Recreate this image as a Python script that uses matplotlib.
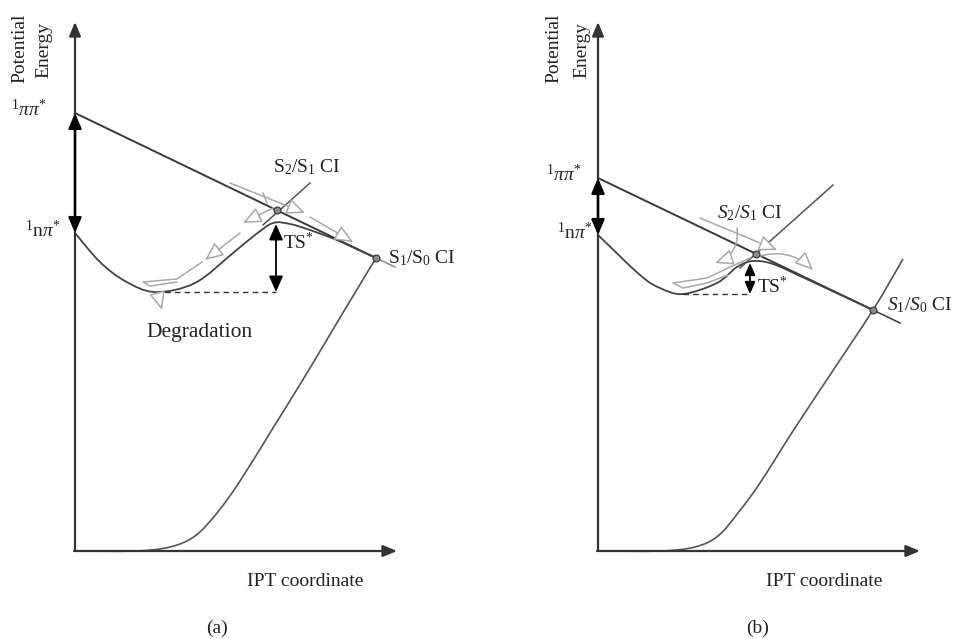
import numpy as np
import matplotlib
matplotlib.use("Agg")
import matplotlib.pyplot as plt
from matplotlib.path import Path
from matplotlib.patches import PathPatch

plt.rcParams['font.family'] = ['Liberation Serif', 'DejaVu Serif']
plt.rcParams['mathtext.fontset'] = 'custom'
plt.rcParams['mathtext.rm'] = 'Liberation Serif'
plt.rcParams['mathtext.it'] = 'Liberation Serif:italic'
plt.rcParams['mathtext.bf'] = 'Liberation Serif:bold'

# ---------------- data (panel coordinates: x = IPT coordinate, y = potential energy)
panel_labels = ['(a)', '(b)']
pipi_E = [438, 373]                       # 1ππ* level at x = 0
npi_E = [318, 316]                        # 1nπ* level at x = 0
s1s0_ci_x = [301, 275]
s1s0_ci_E = [293, 241]
s2s1_ci_x = [202, 158]
s2s1_ci_E = [341, 297]
pipi_ext_x = [320, 302]
pipi_ext_E = [284, 228]

npi_a_x = [0, 25, 50, 80, 120, 158, 180, 198, 215, 235, 262]
npi_a_E = [318, 289, 270, 259, 268, 298, 316, 328, 327, 321, 311]
npi_b_x = [0, 42, 62, 85, 119, 139, 155, 175, 202]
npi_b_E = [316, 276, 263, 257, 268, 284, 290, 287, 275]

ground_a_x = [0, 60, 95, 120, 142, 165, 198, 232, 266, 301]
ground_a_E = [0, 0, 4, 15, 38, 70, 123, 178, 235, 293]
ground_b_x = [0, 62, 97, 120, 140, 162, 195, 232, 275, 305]
ground_b_E = [0, 0, 4, 15, 38, 68, 120, 176, 241, 292]

cross_x = [[188, 235], [142, 235]]
cross_E = [[326, 368], [283, 366]]

ts_x = [201, 152]
ts_top = [327, 288]
ts_bottom = [259, 257]
min_x = [80, 85]

axis_top = 529
axis_right = 322

# ---------------- layout
W, H = 954, 639
origins = [(75, 88), (598, 88)]

fig = plt.figure(figsize=(W / 100, H / 100), dpi=100)
ax = fig.add_axes([0, 0, 1, 1])
ax.set_xlim(0, W)
ax.set_ylim(0, H)
ax.axis('off')

TXT = '#222222'
LINE = '#3a3a3a'
CURVE = '#555555'
GRAY = '#a8a8a8'


def smooth_path(xs, ys):
    pts = np.column_stack([xs, ys]).astype(float)
    n = len(pts)
    verts = [pts[0]]
    codes = [Path.MOVETO]
    for i in range(n - 1):
        p0 = pts[i - 1] if i > 0 else pts[i]
        p1 = pts[i]
        p2 = pts[i + 1]
        p3 = pts[i + 2] if i + 2 < n else pts[i + 1]
        c1 = p1 + (p2 - p0) / 6.0
        c2 = p2 - (p3 - p1) / 6.0
        verts += [c1, c2, p2]
        codes += [Path.CURVE4] * 3
    return Path(verts, codes)


def gray_arrow(ox, oy, start, end, rad=0.0):
    ax.annotate('', xy=(ox + end[0], oy + end[1]), xytext=(ox + start[0], oy + start[1]),
                arrowprops=dict(arrowstyle='-|>,head_length=0.8,head_width=0.35',
                                fc='white', ec=GRAY, lw=1.1, mutation_scale=14,
                                shrinkA=0, shrinkB=0,
                                connectionstyle=f'arc3,rad={rad}'))


npi_x = [npi_a_x, npi_b_x]
npi_Es = [npi_a_E, npi_b_E]
gx = [ground_a_x, ground_b_x]
gE = [ground_a_E, ground_b_E]

for k, (ox, oy) in enumerate(origins):
    # axes with arrows
    ax.annotate('', xy=(ox, oy + axis_top), xytext=(ox, oy),
                arrowprops=dict(arrowstyle='-|>,head_length=0.6,head_width=0.25',
                                color='#333333', lw=1.6, shrinkA=0, shrinkB=0, mutation_scale=14))
    ax.annotate('', xy=(ox + axis_right, oy), xytext=(ox - 1, oy),
                arrowprops=dict(arrowstyle='-|>,head_length=0.6,head_width=0.25',
                                color='#333333', lw=1.6, shrinkA=0, shrinkB=0, mutation_scale=14))

    # ground state curve
    p = smooth_path(np.array(gx[k]) + ox, np.array(gE[k]) + oy)
    ax.add_patch(PathPatch(p, fill=False, ec=CURVE, lw=1.2))

    # n pi* curve
    p = smooth_path(np.array(npi_x[k]) + ox, np.array(npi_Es[k]) + oy)
    ax.add_patch(PathPatch(p, fill=False, ec='#444444', lw=1.3))

    # pi pi* line and extension
    ax.plot([ox, ox + s1s0_ci_x[k]], [oy + pipi_E[k], oy + s1s0_ci_E[k]], color=LINE, lw=1.4)
    ax.plot([ox + s1s0_ci_x[k], ox + pipi_ext_x[k]], [oy + s1s0_ci_E[k], oy + pipi_ext_E[k]],
            color='#888888' if k == 0 else LINE, lw=1.1)
    # n pi* tail merging into the line
    ax.plot([ox + npi_x[k][-1], ox + s1s0_ci_x[k]], [oy + npi_Es[k][-1], oy + s1s0_ci_E[k]],
            color='#444444', lw=1.3)

    # crossing line at S2/S1 CI
    ax.plot(np.array(cross_x[k]) + ox, np.array(cross_E[k]) + oy, color=CURVE, lw=1.1)

    # vertical double arrow on the energy axis
    ax.annotate('', xy=(ox, oy + pipi_E[k]), xytext=(ox, oy + npi_E[k]),
                arrowprops=dict(arrowstyle='<|-|>,head_length=0.7,head_width=0.3',
                                color='black', lw=1.8, shrinkA=0, shrinkB=0, mutation_scale=13))

    # TS* arrow
    ms = 12 if k == 0 else 9
    ax.annotate('', xy=(ox + ts_x[k], oy + ts_top[k]), xytext=(ox + ts_x[k], oy + ts_bottom[k]),
                arrowprops=dict(arrowstyle='<|-|>,head_length=0.8,head_width=0.35',
                                color='black', lw=1.3, shrinkA=0, shrinkB=0, mutation_scale=ms))
    ax.plot([ox + min_x[k], ox + ts_x[k]], [oy + ts_bottom[k], oy + ts_bottom[k]],
            color='#333333', lw=1.0, ls=(0, (4, 3)))

    # CI dots
    ax.plot([ox + s2s1_ci_x[k]], [oy + s2s1_ci_E[k]], 'o', ms=5, mfc='#8a8a8a', mec='#333333', mew=0.8, zorder=5)
    ax.plot([ox + s1s0_ci_x[k]], [oy + s1s0_ci_E[k]], 'o', ms=5, mfc='#8a8a8a', mec='#333333', mew=0.8, zorder=5)

# ---------------- gray trajectory arrows
ox, oy = origins[0]
gray_arrow(ox, oy, (155, 368), (230, 338))
gray_arrow(ox, oy, (235, 334), (278, 309))
gray_arrow(ox, oy, (198, 343), (168, 328))
gray_arrow(ox, oy, (165, 318), (130, 291))
gray_arrow(ox, oy, (82, 259), (87, 241))
ax.plot(np.array([188, 192]) + ox, np.array([358, 348]) + oy, color=GRAY, lw=1.1)
ax.plot(np.array([127, 102, 68, 75, 102]) + ox, np.array([289, 272, 269, 265, 269]) + oy, color=GRAY, lw=1.1)

ox, oy = origins[1]
gray_arrow(ox, oy, (102, 333), (179, 301))
gray_arrow(ox, oy, (139, 323), (117, 288), rad=-0.4)
gray_arrow(ox, oy, (159, 294), (215, 281), rad=-0.3)
ax.plot(np.array([152, 130, 109, 75, 85, 109, 130]) + ox,
        np.array([293, 283, 273, 268, 263, 268, 276]) + oy, color=GRAY, lw=1.1)

# ---------------- texts
FS = 14
for k, (ox, oy) in enumerate(origins):
    pe_x = [(-55, -31), (-44, -16)][k]
    ax.text(ox + pe_x[0], oy + 503, 'Potential', rotation=90, ha='center', va='center', fontsize=FS, color=TXT)
    ax.text(ox + pe_x[1], oy + 501, 'Energy', rotation=90, ha='center', va='center', fontsize=FS, color=TXT)
    ax.text(ox + 230 - 4 * k, oy - 31, 'IPT coordinate', ha='center', va='center', fontsize=FS, color=TXT)
    ax.text(ox + [142, 160][k], oy - 77, panel_labels[k], ha='center', va='center', fontsize=FS, color=TXT)
    lab_dx = [(-28, -14), (-16, -5)][k]
    ax.text(ox + lab_dx[0], oy + pipi_E[k] + 4, r'$^{1}\pi\pi^{*}$', ha='right', va='center', fontsize=FS, color=TXT)
    ax.text(ox + lab_dx[1], oy + npi_E[k] + 3, r'$^{1}\mathrm{n}\pi^{*}$', ha='right', va='center', fontsize=FS, color=TXT)

ox, oy = origins[0]
ax.text(ox + 232, oy + 384, r'S$_2$/S$_1$ CI', ha='center', va='center', fontsize=FS, color=TXT)
ax.text(ox + 208, oy + 309, r'TS$^{*}$', ha='left', va='center', fontsize=FS, color=TXT)
ax.text(ox + 313, oy + 293, r'S$_1$/S$_0$ CI', ha='left', va='center', fontsize=FS, color=TXT)
ax.text(ox + 125, oy + 218, 'Degradation', ha='center', va='center', fontsize=15.5, color=TXT)

ox, oy = origins[1]
ax.text(ox + 152, oy + 338, r'$S_2/S_1$ CI', ha='center', va='center', fontsize=FS, color=TXT)
ax.text(ox + 159, oy + 264, r'TS$^{*}$', ha='left', va='center', fontsize=FS, color=TXT)
ax.text(ox + 289, oy + 246, r'$S_1/S_0$ CI', ha='left', va='center', fontsize=FS, color=TXT)

fig.savefig('out.png', dpi=100, facecolor='white')
